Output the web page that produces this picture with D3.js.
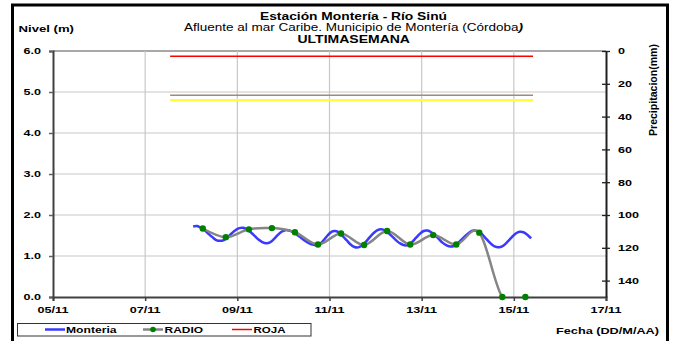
<!DOCTYPE html>
<html>
<head>
<meta charset="utf-8">
<script src="https://cdn.jsdelivr.net/npm/d3@7"></script>
<style>
  html, body { margin: 0; padding: 0; background: #fff; }
  svg { display: block; font-family: "Liberation Sans", Arial, sans-serif; }
</style>
</head>
<body>
<svg id="chart" width="674" height="341"></svg>
<script>
// Montería gauge (m), one reading every 2 hours from 08/11 01:00
const monteriaStart = "2011-11-08T01:00";
const monteriaStepHours = 2;
const monteriaLevels = [
  1.72, 1.73, 1.69, 1.63, 1.54, 1.46, 1.39, 1.37,
  1.39, 1.46, 1.55, 1.63, 1.68,
  1.69, 1.65, 1.58, 1.49, 1.40, 1.34, 1.31,
  1.33, 1.41, 1.51, 1.59, 1.63,
  1.62, 1.58, 1.52, 1.45, 1.38, 1.32, 1.28, 1.26,
  1.29, 1.39, 1.50, 1.59,
  1.61, 1.57, 1.48, 1.38, 1.28, 1.22,
  1.21, 1.26, 1.35, 1.46, 1.56, 1.63,
  1.65, 1.62, 1.55, 1.46, 1.37, 1.30, 1.26,
  1.27, 1.34, 1.44, 1.54, 1.61,
  1.62, 1.58, 1.51, 1.41, 1.32, 1.26, 1.23,
  1.25, 1.32, 1.41, 1.50, 1.58, 1.62,
  1.61, 1.55, 1.45, 1.35, 1.26, 1.22,
  1.22, 1.27, 1.36, 1.46, 1.55, 1.59,
  1.58, 1.52, 1.43
];

// Radio reports (m), 06:00 and 18:00 each day from 08/11
const radioStart = "2011-11-08T06:00";
const radioStepHours = 12;
const radioLevels = [1.67, 1.46, 1.65, 1.68, 1.58, 1.28, 1.55, 1.27, 1.61, 1.28, 1.51, 1.28, 1.57, 0, 0];

// Alert thresholds (m)
const alertNames = ["ROJA", "NARANJA", "AMARILLA"];
const alertLevels = [5.87, 4.92, 4.80];
const alertColors = ["#ff0000", "#a08a78", "#ffff33"];
const alertFrom = "2011-11-07T13:00";
const alertTo = "2011-11-15T10:00";

// Axes
const dateTicks = ["2011-11-05", "2011-11-07", "2011-11-09", "2011-11-11", "2011-11-13", "2011-11-15", "2011-11-17"];
const levelTicks = [0, 1, 2, 3, 4, 5, 6];
const precipTicks = [0, 20, 40, 60, 80, 100, 120, 140];

// Legend entries
const legendNames = ["Monteria", "RADIO", "ROJA"];

const parse = d3.timeParse("%Y-%m-%dT%H:%M");
const parseDay = d3.timeParse("%Y-%m-%d");
const HOUR = 3600 * 1000;

const monteria = monteriaLevels.map((v, i) => ({ t: new Date(+parse(monteriaStart) + i * monteriaStepHours * HOUR), v }));
const radio = radioLevels.map((v, i) => ({ t: new Date(+parse(radioStart) + i * radioStepHours * HOUR), v }));

const svg = d3.select("#chart");
const plot = { left: 53, right: 606, top: 51, bottom: 297 };

const x = d3.scaleTime()
  .domain([parseDay(dateTicks[0]), parseDay(dateTicks[dateTicks.length - 1])])
  .range([plot.left, plot.right]);
const y = d3.scaleLinear().domain([0, 6]).range([plot.bottom, plot.top]);
const yP = d3.scaleLinear().domain([0, 150]).range([plot.top, plot.bottom]);

// Horizontally widened bold text used for tick labels
const SX = 1.4;
function wideText(g, str, tx, ty, opts = {}) {
  return g.append("text")
    .attr("transform", `translate(${tx},${ty}) scale(${opts.sx || SX},1)`)
    .attr("text-anchor", opts.anchor || "start")
    .attr("font-size", opts.size || 9)
    .attr("font-weight", opts.weight || "bold")
    .attr("fill", opts.fill || "#000")
    .text(str);
}

// Outer frame
svg.append("rect")
  .attr("x", 12.5).attr("y", 5).attr("width", 655).attr("height", 345)
  .attr("fill", "none").attr("stroke", "#000").attr("stroke-width", 3);

// Titles
svg.append("text").attr("x", 260).attr("y", 19.5)
  .attr("font-size", 10).attr("font-weight", "bold")
  .attr("textLength", 187).attr("lengthAdjust", "spacingAndGlyphs")
  .text("Estación Montería  - Río Sinú");
const sub = svg.append("text").attr("x", 184).attr("y", 30.5)
  .attr("font-size", 10)
  .attr("textLength", 339).attr("lengthAdjust", "spacingAndGlyphs");
sub.append("tspan").text("Afluente al mar Caribe. Municipio de Montería (Córdoba");
sub.append("tspan").attr("font-style", "italic").attr("font-weight", "bold").text(")");
svg.append("text").attr("x", 297.5).attr("y", 42.5)
  .attr("font-size", 10).attr("font-weight", "bold")
  .attr("textLength", 112.5).attr("lengthAdjust", "spacingAndGlyphs")
  .text("ULTIMASEMANA");

svg.append("text").attr("x", 18.5).attr("y", 32.3)
  .attr("font-size", 9.5).attr("font-weight", "bold")
  .attr("textLength", 55.5).attr("lengthAdjust", "spacingAndGlyphs")
  .text("Nivel (m)");

// Gridlines
const grid = svg.append("g");
grid.selectAll("line.h").data(levelTicks.filter(d => d > 0)).join("line")
  .attr("x1", plot.left).attr("x2", plot.right)
  .attr("y1", d => y(d)).attr("y2", d => y(d))
  .attr("stroke", d => d === 6 ? "#a8a8a8" : "#c8c8c8")
  .attr("stroke-width", d => d === 6 ? 2 : 1.2);
grid.selectAll("line.v").data(dateTicks.slice(1, -1).map(parseDay)).join("line")
  .attr("x1", d => x(d)).attr("x2", d => x(d))
  .attr("y1", plot.top).attr("y2", plot.bottom)
  .attr("stroke", "#c8c8c8").attr("stroke-width", 1.2);

// Alert thresholds
svg.append("g").selectAll("line").data(alertLevels).join("line")
  .attr("x1", x(parse(alertFrom))).attr("x2", x(parse(alertTo)))
  .attr("y1", d => y(d)).attr("y2", d => y(d))
  .attr("stroke", (d, i) => alertColors[i]).attr("stroke-width", (d, i) => i === 2 ? 2.2 : 1.5);

// Left axis
const axL = svg.append("g").attr("transform", `translate(${plot.left},0)`)
  .call(d3.axisLeft(y).tickValues(levelTicks).tickSize(4).tickFormat(() => ""));
axL.select(".domain").attr("stroke", "#404040").attr("stroke-width", 2);
axL.selectAll(".tick line").attr("stroke", "#606060").attr("stroke-width", 1.5);
levelTicks.forEach(d => wideText(svg, d3.format(".1f")(d), 41, y(d) + 3.3, { anchor: "end" }));

// Bottom axis
const axB = svg.append("g").attr("transform", `translate(0,${plot.bottom})`)
  .call(d3.axisBottom(x).tickValues(dateTicks.map(parseDay)).tickSize(4).tickFormat(() => ""));
axB.select(".domain").attr("stroke", "#404040").attr("stroke-width", 2);
axB.selectAll(".tick line").attr("stroke", "#404040").attr("stroke-width", 1.5);
dateTicks.forEach(d => wideText(svg, d3.timeFormat("%d/%m")(parseDay(d)), x(parseDay(d)), 312.5, { anchor: "middle" }));

// Right axis (precipitation, reversed)
const axR = svg.append("g").attr("transform", `translate(${plot.right},0)`)
  .call(d3.axisRight(yP).tickValues(precipTicks).tickSizeInner(4).tickSizeOuter(0).tickFormat(() => ""));
axR.select(".domain").attr("stroke", "#202020").attr("stroke-width", 2);
axR.selectAll(".tick line").attr("x1", -4).attr("stroke", "#202020").attr("stroke-width", 1.3);
precipTicks.forEach(d => wideText(svg, String(d), 618, yP(d) + 3.4));

svg.append("text").attr("transform", "translate(657,136) rotate(-90)")
  .attr("font-size", 10.5).attr("font-weight", "bold")
  .attr("textLength", 92).attr("lengthAdjust", "spacingAndGlyphs")
  .text("Precipitacion(mm)");

svg.append("text").attr("x", 556).attr("y", 333.5)
  .attr("font-size", 9.5).attr("font-weight", "bold")
  .attr("textLength", 103).attr("lengthAdjust", "spacingAndGlyphs")
  .text("Fecha (DD/M/AA)");

// Series
svg.append("clipPath").attr("id", "plotClip").append("rect")
  .attr("x", plot.left).attr("y", plot.top - 2)
  .attr("width", plot.right - plot.left).attr("height", plot.bottom - plot.top + 2);

const series = svg.append("g").attr("clip-path", "url(#plotClip)");
const line = d3.line().x(d => x(d.t)).y(d => y(d.v)).curve(d3.curveCardinal.tension(0));

series.append("path").datum(monteria)
  .attr("d", line).attr("fill", "none")
  .attr("stroke", "#3a3aff").attr("stroke-width", 2.5).attr("stroke-linejoin", "round");
series.append("path").datum(radio)
  .attr("d", line).attr("fill", "none")
  .attr("stroke", "#858585").attr("stroke-width", 2.5).attr("stroke-linejoin", "round");

svg.append("g").selectAll("circle").data(radio).join("circle")
  .attr("cx", d => x(d.t)).attr("cy", d => y(d.v)).attr("r", 3.2)
  .attr("fill", "#008000");

// Legend
const lg = svg.append("g");
lg.append("rect").attr("x", 17.5).attr("y", 323.5).attr("width", 293.5).attr("height", 12.5)
  .attr("fill", "#fff").attr("stroke", "#333").attr("stroke-width", 1);
const ly = 329.5;
lg.append("line").attr("x1", 45).attr("x2", 65).attr("y1", ly).attr("y2", ly)
  .attr("stroke", "#3a3aff").attr("stroke-width", 2.5);
lg.append("line").attr("x1", 143).attr("x2", 163).attr("y1", ly).attr("y2", ly)
  .attr("stroke", "#858585").attr("stroke-width", 2.5);
lg.append("circle").attr("cx", 153).attr("cy", ly).attr("r", 2.8).attr("fill", "#008000");
lg.append("line").attr("x1", 232).attr("x2", 252).attr("y1", ly).attr("y2", ly)
  .attr("stroke", alertColors[0]).attr("stroke-width", 1.5);
const legendX = [66, 164.5, 253.5];
const legendW = [50.5, 38.5, 32];
legendNames.forEach((n, i) => {
  lg.append("text").attr("x", legendX[i]).attr("y", 333)
    .attr("font-size", 9).attr("font-weight", "bold")
    .attr("textLength", legendW[i]).attr("lengthAdjust", "spacingAndGlyphs")
    .text(n);
});
</script>
</body>
</html>
